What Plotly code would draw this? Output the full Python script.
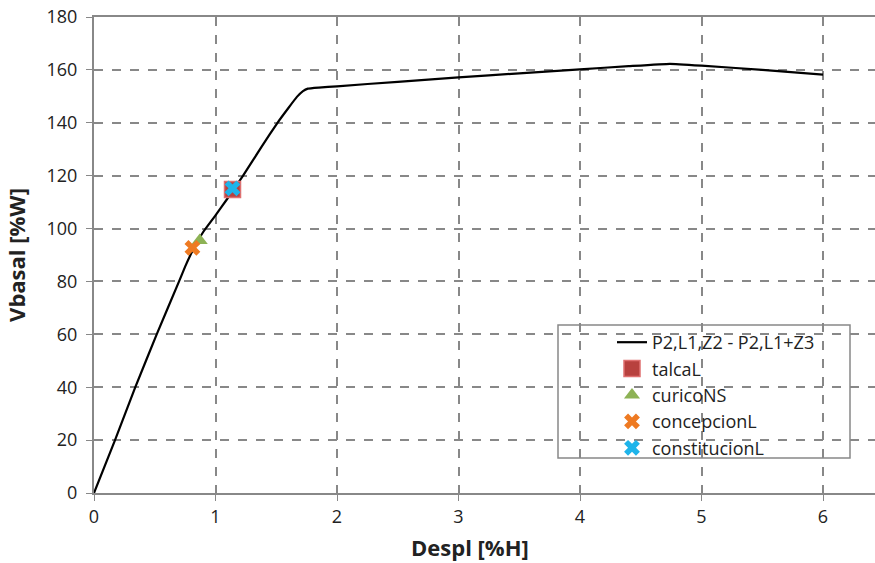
import plotly.graph_objects as go

# Pushover curve
curve_x = [0, 0.173, 0.34, 0.516, 0.70, 0.75, 0.81, 0.90, 1.00, 1.09, 1.227, 1.38, 1.51, 1.60, 1.67, 1.72, 1.76, 1.85, 2.0, 2.5, 3.0, 3.5, 4.0, 4.4, 4.74, 5.0, 5.5, 6.0]
curve_y = [0, 20, 40, 60, 80, 85.6, 91.5, 98.8, 105.0, 110.8, 120, 131, 140, 145.6, 149.8, 152.0, 152.9, 153.3, 153.8, 155.5, 157.2, 158.7, 160.2, 161.4, 162.3, 161.6, 160.0, 158.2]

# Performance points
talca_x, talca_y = [1.14], [114.8]
curico_x, curico_y = [0.87], [95.5]
concep_x, concep_y = [0.81], [92.7]
const_x, const_y = [1.14], [115.2]

x_ticks = [0, 1, 2, 3, 4, 5, 6]
y_ticks = [0, 20, 40, 60, 80, 100, 120, 140, 160, 180]

FONT = "Open Sans, Noto Sans, sans-serif"

W, H = 875, 563
PL, PT, PW, PH = 94, 17, 781, 476  # plot area in page pixels

fig = go.Figure()
fig.add_trace(go.Scatter(x=curve_x, y=curve_y, mode="lines", name="P2,L1,Z2 - P2,L1+Z3",
                         line=dict(color="black", width=2.2, shape="spline", smoothing=0.3)))
fig.add_trace(go.Scatter(x=talca_x, y=talca_y, mode="markers", name="talcaL",
                         marker=dict(symbol="square", size=16, color="#B8413E",
                                     line=dict(color="#E07070", width=1.5))))
fig.add_trace(go.Scatter(x=curico_x, y=curico_y, mode="markers", name="curicoNS",
                         marker=dict(symbol="triangle-up", size=14, color="#8DB255")))
fig.add_trace(go.Scatter(x=concep_x, y=concep_y, mode="markers", name="concepcionL",
                         marker=dict(symbol="x", size=14, color="#EE7A22")))
fig.add_trace(go.Scatter(x=const_x, y=const_y, mode="markers", name="constitucionL",
                         marker=dict(symbol="x", size=14, color="#1EB4EA")))

def px(xa):
    return (xa - PL) / PW

def py(ya):
    return (PT + PH - ya) / PH

# legend frame
fig.add_shape(type="rect", xref="paper", yref="paper", layer="below",
              x0=px(558), x1=px(850), y0=py(458), y1=py(325),
              line=dict(color="#888", width=1.5), fillcolor="white")

# x-axis title
fig.add_annotation(text="<b>Despl [%H]</b>", xref="paper", yref="paper",
                   x=px(470), y=0, xanchor="center", yanchor="top", yshift=-37,
                   showarrow=False, font=dict(family=FONT, size=22, color="#222"))

fig.update_layout(
    width=W, height=H,
    margin=dict(l=PL, r=0, t=PT, b=H - PT - PH),
    paper_bgcolor="white", plot_bgcolor="white",
    font=dict(family=FONT, size=18, color="#222"),
    showlegend=True,
    legend=dict(x=px(612), xanchor="left", y=py(324), yanchor="top",
                bgcolor="rgba(0,0,0,0)", borderwidth=0,
                font=dict(family=FONT, size=18, color="#222"), itemwidth=30),
    xaxis=dict(range=[0, PW / 121.5], tickvals=x_ticks, showgrid=True, gridcolor="#888",
               griddash="dash", gridwidth=1.5, showline=True, linecolor="#888", linewidth=2,
               mirror=True, ticks="outside", ticklen=6, tickcolor="#888", zeroline=False,
               automargin=False, tickfont=dict(size=18)),
    yaxis=dict(range=[0, 180], tickvals=y_ticks, showgrid=True, gridcolor="#888",
               griddash="dash", gridwidth=1.5, showline=True, linecolor="#888", linewidth=2,
               ticks="outside", ticklen=6, tickcolor="#888", zeroline=False,
               automargin=False, tickfont=dict(size=18), ticklabelstandoff=5,
               ticklabeloverflow="allow",
               title=dict(text="<b>Vbasal [%W]</b>", font=dict(size=22), standoff=15)),
)

# remove the browser's default 8px body margin so the figure sits at the page origin
fig.write_html("out.html", config={"displayModeBar": False},
               post_script="document.body.style.margin='0';")
